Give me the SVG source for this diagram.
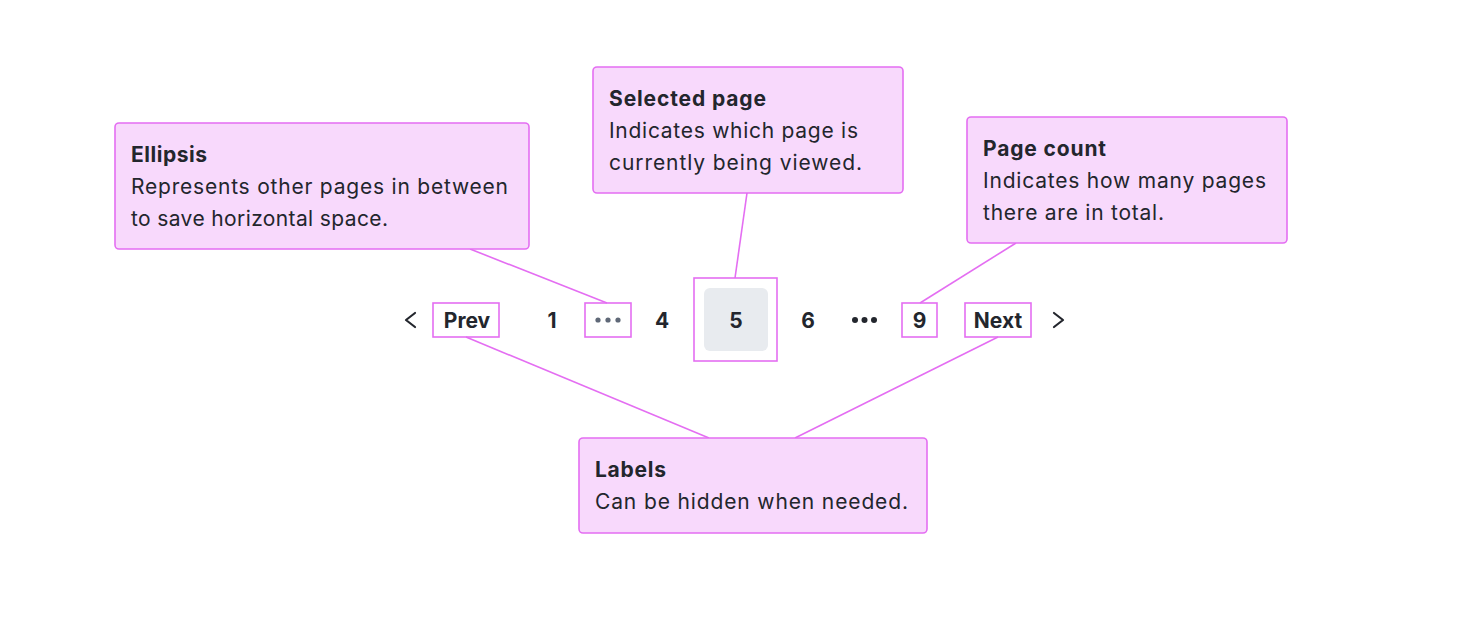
<svg xmlns="http://www.w3.org/2000/svg" width="1472" height="642" viewBox="0 0 1472 642">
<style>
.box{fill:#f8d9fc;stroke:#e46ef2;stroke-width:1.6}
.hl{fill:none;stroke:#e46ef2;stroke-width:1.6}
.t{font-family:Inter,"Liberation Sans",sans-serif;font-size:21px;fill:#23262d}
.b{font-weight:700}
.pg{font-family:Inter,"Liberation Sans",sans-serif;font-size:21px;font-weight:700;fill:#23262d;text-anchor:middle}
.chev{fill:none;stroke:#23262d;stroke-width:2.2;stroke-linecap:round;stroke-linejoin:round}
.con{stroke:#e46ef2;stroke-width:1.6;fill:none}
</style>
<rect width="1472" height="642" fill="#ffffff"/>
<g id="connectors">
<line class="con" x1="470" y1="249" x2="607" y2="303"/>
<line class="con" x1="747" y1="193" x2="735" y2="278"/>
<line class="con" x1="1016" y1="243" x2="920" y2="303"/>
<line class="con" x1="466" y1="337" x2="709" y2="438"/>
<line class="con" x1="998" y1="337" x2="795" y2="438"/>
</g>
<g id="pagination">
<polyline class="chev" points="415,313 406,320 415,327"/>
<g id="prev"><rect class="hl" x="433" y="303" width="66" height="34"/><text class="pg" x="467" y="328">Prev</text></g>
<text class="pg" x="552" y="328">1</text>
<g id="ellipsis-dots"><rect class="hl" x="585" y="303" width="46" height="34"/>
<circle cx="598" cy="320" r="2.6" fill="#5f6877"/><circle cx="608" cy="320" r="2.6" fill="#5f6877"/><circle cx="618" cy="320" r="2.6" fill="#5f6877"/></g>
<text class="pg" x="662" y="328">4</text>
<g id="selected"><rect class="hl" x="694" y="278" width="83" height="83"/><rect x="704" y="288" width="64" height="63" rx="6" fill="#e8ebef"/><text class="pg" x="736" y="328">5</text></g>
<text class="pg" x="808" y="328">6</text>
<circle cx="855" cy="320" r="3" fill="#23262d"/><circle cx="864.5" cy="320" r="3" fill="#23262d"/><circle cx="874" cy="320" r="3" fill="#23262d"/>
<g id="last"><rect class="hl" x="902" y="303" width="35" height="34"/><text class="pg" x="919.5" y="328">9</text></g>
<g id="next"><rect class="hl" x="965" y="303" width="66" height="34"/><text class="pg" x="998" y="328">Next</text></g>
<polyline class="chev" points="1054,313 1063,320 1054,327"/>
</g>
<g id="note-ellipsis">
<rect class="box" x="115" y="123" width="414" height="126" rx="4"/>
<text class="t b" x="131" y="162" textLength="76" lengthAdjust="spacing">Ellipsis</text>
<text class="t" x="131" y="194" textLength="377" lengthAdjust="spacing">Represents other pages in between</text>
<text class="t" x="131" y="226" textLength="257" lengthAdjust="spacing">to save horizontal space.</text>
</g>
<g id="note-selected">
<rect class="box" x="593" y="67" width="310" height="126" rx="4"/>
<text class="t b" x="609" y="106" textLength="157" lengthAdjust="spacing">Selected page</text>
<text class="t" x="609" y="138" textLength="249" lengthAdjust="spacing">Indicates which page is</text>
<text class="t" x="609" y="170" textLength="253" lengthAdjust="spacing">currently being viewed.</text>
</g>
<g id="note-count">
<rect class="box" x="967" y="117" width="320" height="126" rx="4"/>
<text class="t b" x="983" y="156" textLength="123" lengthAdjust="spacing">Page count</text>
<text class="t" x="983" y="188" textLength="283" lengthAdjust="spacing">Indicates how many pages</text>
<text class="t" x="983" y="220" textLength="181" lengthAdjust="spacing">there are in total.</text>
</g>
<g id="note-labels">
<rect class="box" x="579" y="438" width="348" height="95" rx="4"/>
<text class="t b" x="595" y="477" textLength="71" lengthAdjust="spacing">Labels</text>
<text class="t" x="595" y="509" textLength="313" lengthAdjust="spacing">Can be hidden when needed.</text>
</g>
</svg>
